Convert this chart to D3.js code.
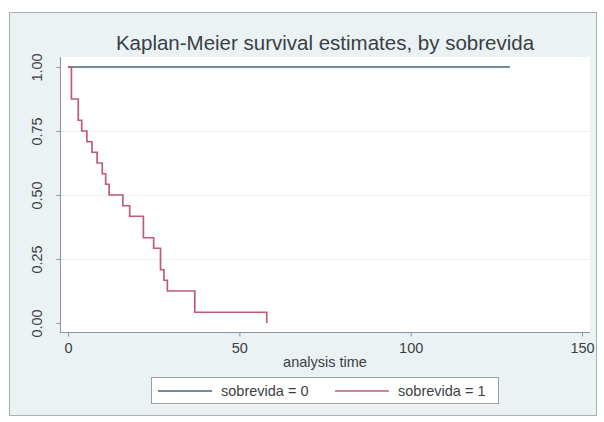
<!DOCTYPE html>
<html>
<head>
<meta charset="utf-8">
<script src="https://cdn.jsdelivr.net/npm/d3@7"></script>
<style>
  body { margin: 0; background: #fff; }
  svg text { font-family: "Liberation Sans", Arial, sans-serif; fill: #3a3f44; }
</style>
</head>
<body>
<div id="chart"></div>
<script>
// KM survival estimates
const timeGroup0 = [0, 129];
const survGroup0 = [1, 1];
const timeGroup1 = [0, 1, 3, 4, 5.5, 7, 8.5, 10, 11, 12, 16, 18, 22, 25, 27, 28, 29, 37, 58];
const survGroup1 = [1, 0.875, 0.792, 0.75, 0.708, 0.667, 0.625, 0.583, 0.542, 0.5, 0.458, 0.417, 0.333, 0.292, 0.208, 0.167, 0.125, 0.042, 0];
const xTicks = [0, 50, 100, 150];
const yTicks = [0, 0.25, 0.5, 0.75, 1];
const seriesNames = ["sobrevida = 0", "sobrevida = 1"];
const colors = ["#46647b", "#bf5c74"];

const width = 604, height = 422;
const svg = d3.select("#chart").append("svg")
    .attr("width", width).attr("height", height);

// graph region
svg.append("rect")
    .attr("x", 9.5).attr("y", 12.5).attr("width", 587).attr("height", 403)
    .attr("fill", "#eaf2f3").attr("stroke", "#a9afb2");

// plot region
svg.append("rect")
    .attr("x", 61).attr("y", 57).attr("width", 529).attr("height", 275)
    .attr("fill", "#ffffff");

const x = d3.scaleLinear().domain([0, 150]).range([68, 582]);
const y = d3.scaleLinear().domain([0, 1]).range([323, 67]);

// grid
svg.append("g").selectAll("line")
    .data(yTicks.filter(d => d > 0 && d < 1))
    .join("line")
    .attr("x1", 61).attr("x2", 590)
    .attr("y1", d => y(d) + 0.5).attr("y2", d => y(d) + 0.5)
    .attr("stroke", "#edf1f2").attr("stroke-width", 1);

// axes
const xAxis = svg.append("g")
    .attr("transform", "translate(0,332.5)")
    .call(d3.axisBottom(x).tickValues(xTicks).tickSize(4).tickPadding(6).tickFormat(d3.format("d")));
xAxis.select(".domain").attr("stroke", "#8d9599").attr("d", "M60,0H590");
xAxis.selectAll(".tick line").attr("stroke", "#8d9599");
xAxis.selectAll("text").attr("font-size", 14.5).attr("fill", "#3a3f44");

const yAxis = svg.append("g")
    .attr("transform", "translate(60.5,0)")
    .call(d3.axisLeft(y).tickValues(yTicks).tickSize(4).tickFormat(d3.format(".2f")));
yAxis.select(".domain").attr("stroke", "#8d9599").attr("d", "M0,57V333");
yAxis.selectAll(".tick line").attr("stroke", "#8d9599");
yAxis.selectAll("text")
    .attr("font-size", 14.5)
    .attr("fill", "#3a3f44")
    .attr("x", 0).attr("dy", 0)
    .attr("text-anchor", "middle")
    .attr("transform", "translate(-18.5,0) rotate(-90)");

// curves
const line = d3.line()
    .x(d => x(d[0]))
    .y(d => y(d[1]))
    .curve(d3.curveStepAfter);

const series = [
  d3.zip(timeGroup0, survGroup0),
  d3.zip(timeGroup1, survGroup1)
];

svg.append("g").selectAll("path")
    .data(series)
    .join("path")
    .attr("d", line)
    .attr("fill", "none")
    .attr("stroke", (d, i) => colors[i])
    .attr("stroke-width", 1.7);

// titles
svg.append("text")
    .attr("x", 325).attr("y", 50)
    .attr("text-anchor", "middle")
    .attr("font-size", 20.5)
    .attr("fill", "#2b3a44")
    .text("Kaplan-Meier survival estimates, by sobrevida");

svg.append("text")
    .attr("x", 325).attr("y", 367)
    .attr("text-anchor", "middle")
    .attr("font-size", 14.5)
    .text("analysis time");

// legend
const legend = svg.append("g");
legend.append("rect")
    .attr("x", 151.5).attr("y", 377.5).attr("width", 347).attr("height", 26)
    .attr("fill", "#ffffff").attr("stroke", "#9aa2a6");

const entries = legend.selectAll("g.entry")
    .data(seriesNames)
    .join("g")
    .attr("class", "entry")
    .attr("transform", (d, i) => `translate(${i === 0 ? 158 : 335},391)`);
entries.append("line")
    .attr("x1", 0).attr("x2", 54)
    .attr("stroke", (d, i) => colors[i]).attr("stroke-width", 1.7);
entries.append("text")
    .attr("x", 63).attr("y", 5)
    .attr("font-size", 14.5)
    .text(d => d);
</script>
</body>
</html>
